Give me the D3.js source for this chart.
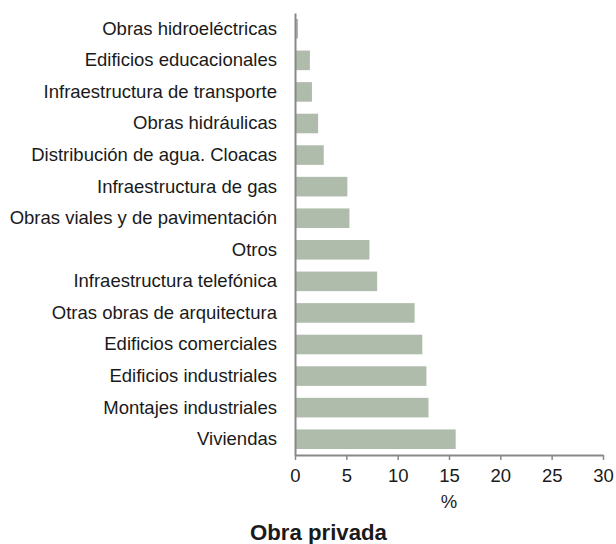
<!DOCTYPE html>
<html><head><meta charset="utf-8">
<script src="https://cdn.jsdelivr.net/npm/d3@7"></script>
<style>body{margin:0;background:#fff}svg{display:block}</style>
</head><body>
<script>
const categories = [
  "Obras hidroeléctricas",
  "Edificios educacionales",
  "Infraestructura de transporte",
  "Obras hidráulicas",
  "Distribución de agua. Cloacas",
  "Infraestructura de gas",
  "Obras viales y de pavimentación",
  "Otros",
  "Infraestructura telefónica",
  "Otras obras de arquitectura",
  "Edificios comerciales",
  "Edificios industriales",
  "Montajes industriales",
  "Viviendas"
];
const values = [0.3, 1.45, 1.65, 2.25, 2.8, 5.1, 5.3, 7.25, 8.0, 11.65, 12.4, 12.8, 13.0, 15.65];
const xTicks = [0, 5, 10, 15, 20, 25, 30];
const xLabel = "%";
const title = "Obra privada";

const W = 616, H = 544;
const m = {left: 295, top: 13, right: 13, bottom: 89};
const svg = d3.select("body").append("svg").attr("width", W).attr("height", H);
const font = "'Liberation Sans', Arial, Helvetica, sans-serif";
const fs = 18.5;

const x = d3.scaleLinear().domain([0, 30]).range([m.left, W - m.right]);
const y = d3.scaleBand().domain(categories).range([m.top, H - m.bottom]).paddingInner(0.38).paddingOuter(0.19);

svg.append("g").selectAll("rect").data(categories).join("rect")
  .attr("x", x(0))
  .attr("y", d => y(d))
  .attr("width", (d, i) => x(values[i]) - x(0))
  .attr("height", y.bandwidth())
  .attr("fill", "#afbbab");

// y axis
const ya = svg.append("g").attr("transform", `translate(${x(0)},0)`)
  .call(d3.axisLeft(y).tickSize(0).tickPadding(18));
ya.select(".domain").attr("stroke", "#888").attr("stroke-width", 2);
ya.selectAll("text").attr("font-family", font).attr("font-size", fs).attr("fill", "#1a1a1a");

// x axis
const xa = svg.append("g").attr("transform", `translate(0,${H - m.bottom})`)
  .call(d3.axisBottom(x).tickValues(xTicks).tickSize(5).tickPadding(9).tickSizeOuter(0));
xa.select(".domain").attr("stroke", "#888").attr("stroke-width", 2);
xa.selectAll(".tick line").attr("stroke", "#888").attr("stroke-width", 1.5);
xa.selectAll("text").attr("font-family", font).attr("font-size", fs).attr("fill", "#1a1a1a");

svg.append("text").attr("x", x(15)).attr("y", 508).attr("text-anchor", "middle")
  .attr("font-family", font).attr("font-size", fs).attr("fill", "#1a1a1a").text(xLabel);

svg.append("text").attr("x", 318.5).attr("y", 540).attr("text-anchor", "middle")
  .attr("font-family", font).attr("font-size", 22.2).attr("font-weight", "bold").attr("fill", "#1a1a1a").text(title);
</script>
</body></html>
